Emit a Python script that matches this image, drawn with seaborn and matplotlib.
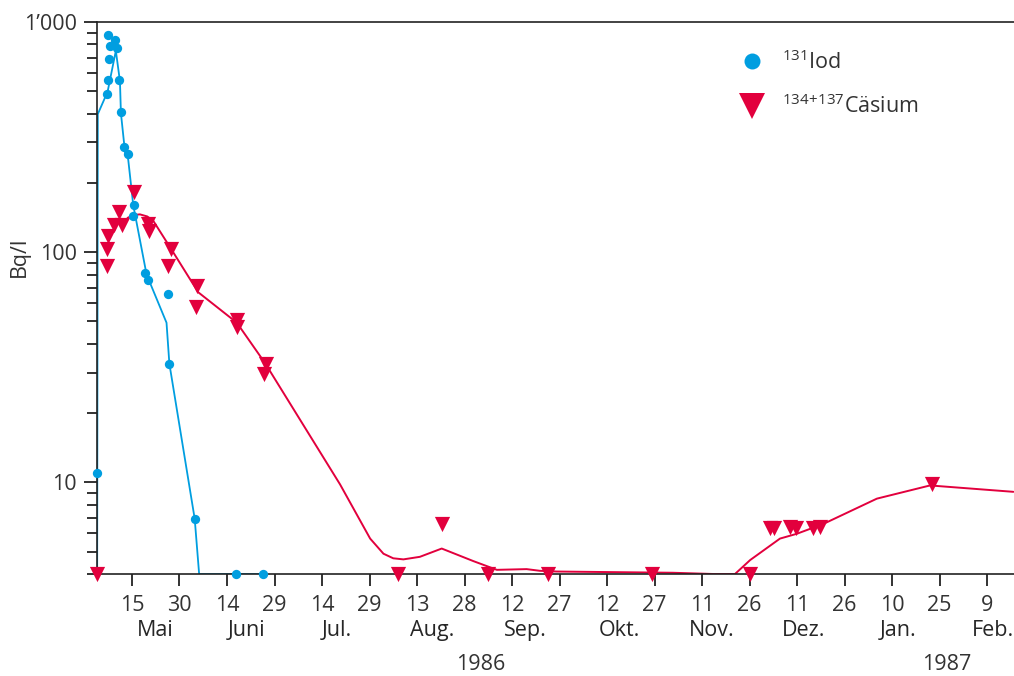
import numpy as np
import pandas as pd
import matplotlib
matplotlib.use('Agg')
import matplotlib.pyplot as plt
import matplotlib.transforms as mtransforms
from matplotlib.lines import Line2D
from matplotlib.ticker import LogLocator, NullFormatter, FixedLocator
import seaborn as sns

sns.set_theme(style='ticks')
plt.rcParams['font.family'] = ['Open Sans', 'DejaVu Sans']
plt.rcParams['mathtext.fontset'] = 'custom'
plt.rcParams['mathtext.rm'] = 'Open Sans'

BLUE = '#009ee0'
RED = '#e2003d'
FS = 15.5

# Tage seit 1. Mai 1986
start = pd.Timestamp('1986-05-01')

# 131-Iod Messwerte
iod_day = [6.3, 8.6, 7.1, 9.3, 6.7, 6.3, 10.0, 6.2, 10.4, 11.5, 12.7,
           14.7, 14.4, 18.1, 19.0, 25.3, 25.8, 33.8, 3.0, 46.8, 55.5]
iod_bq = [878, 838, 789, 769, 690, 558, 558, 486, 406, 287, 266,
          161, 144, 81, 76, 66, 32.8, 6.95, 11.0, 4.0, 4.0]

# Iod Verlauf
iod_line_day = [3.0, 3.2, 6.3, 8.9, 10.2, 10.5, 11.8, 12.8, 14.4, 18.6, 24.9, 25.8, 33.8, 35.2, 55.5]
iod_line_bq = [4.0, 398, 498, 750, 552, 402, 272, 253, 160, 80, 49.4, 32.8, 6.95, 4.0, 4.0]

# 134+137-Caesium Messwerte
cs_day = [3.0, 6.0, 6.2, 6.5, 8.4, 10.0, 10.7, 14.7, 19.0, 19.4, 25.3, 26.3,
          34.2, 34.6, 47.1, 47.1, 55.8, 56.3, 97.9, 111.8, 126.3, 145.5, 178.1,
          209.2, 215.3, 216.7, 221.8, 223.7, 229.0, 231.3, 266.5]
cs_bq = [4.0, 87, 103, 118, 131, 150, 131, 183, 133, 124, 87, 103,
         58, 71, 51, 47.5, 29.5, 32.8, 4.0, 6.6, 4.0, 4.0, 4.0,
         4.0, 6.35, 6.35, 6.4, 6.35, 6.35, 6.4, 9.8]

# Caesium Verlauf
cs_line_day = [12.6, 14.5, 16.5, 18.8, 20.7, 27.0, 34.9, 47.1, 56.0, 79.7, 89.2, 93.4,
               96.5, 99.7, 104.9, 111.8, 121.8, 129.2, 138.6, 142.8, 148.1, 184.8,
               197.5, 204.4, 209.2, 218.6, 223.9, 232.3, 249.2, 266.0, 292.3]
cs_line_bq = [141, 145, 146, 143, 137, 100, 67, 49.4, 33, 9.8, 5.7, 4.9,
              4.68, 4.63, 4.75, 5.16, 4.55, 4.17, 4.2, 4.13, 4.1, 4.05,
              4.0, 4.0, 4.6, 5.7, 5.98, 6.6, 8.5, 9.7, 9.1]

tick_dates = pd.date_range('1986-05-15', periods=19, freq='15D')
tick_labels = ['15', '30', '14', '29', '14', '29', '13', '28', '12', '27',
               '12', '27', '11', '26', '11', '26', '10', '25', '9']
months = ['Mai', 'Juni', 'Jul.', 'Aug.', 'Sep.', 'Okt.', 'Nov.', 'Dez.', 'Jan.', 'Feb.']
month_day = [21.3, 50.3, 78.7, 108.7, 138.2, 167.8, 197.2, 226.2, 255.9, 285.9]
years = ['1986', '1987']
year_day = [124.2, 271.4]

fig = plt.figure(figsize=(10.14, 6.76), dpi=100)
ax = fig.add_axes([97 / 1014, 1 - 574 / 676, 917 / 1014, 552 / 676])

sns.lineplot(x=cs_line_day, y=cs_line_bq, sort=False, estimator=None,
             color=RED, lw=1.4, ax=ax)
sns.lineplot(x=iod_line_day, y=iod_line_bq, sort=False, estimator=None,
             color=BLUE, lw=1.3, ax=ax)
sns.scatterplot(x=cs_day, y=cs_bq, marker='v', s=120, color=RED,
                linewidth=0, ax=ax, clip_on=False, zorder=3)
sns.scatterplot(x=iod_day, y=iod_bq, marker='o', s=45, color=BLUE,
                linewidth=0, ax=ax, clip_on=False, zorder=4)

ax.set_yscale('log')
ax.set_ylim(4, 1000)
ax.set_xlim(2.95, 292.5)

ax.yaxis.set_major_locator(FixedLocator([10, 100, 1000]))
ax.set_yticklabels(['10', '100', '1\u2019000'])
ax.yaxis.set_minor_locator(LogLocator(base=10, subs=np.arange(2, 10)))
ax.yaxis.set_minor_formatter(NullFormatter())

tick_days = [(d - start).days for d in tick_dates]
ax.set_xticks(tick_days, labels=tick_labels)
ax.set_xticks(month_day, labels=months, minor=True)

ax.tick_params(axis='y', which='major', length=9.5, width=1.3, labelsize=FS, pad=5, color='#222222')
ax.tick_params(axis='y', which='minor', length=7, width=1.3, color='#222222')
ax.tick_params(axis='x', which='major', length=8.5, width=1.3, labelsize=FS, pad=6.5, color='#222222')
ax.tick_params(axis='x', which='minor', length=0, labelsize=FS, pad=33)
ax.tick_params(labelcolor='#333333')

for s in ['left', 'top', 'bottom']:
    ax.spines[s].set_linewidth(1.2)
    ax.spines[s].set_color('#222222')
ax.spines['right'].set_visible(False)

ax.set_xlabel('')
ax.set_ylabel('Bq/l', fontsize=FS, color='#333333')
ax.yaxis.label.set_verticalalignment('center')
ax.yaxis.set_label_coords(-0.085, 0.574)

trans = mtransforms.blended_transform_factory(ax.transData, ax.transAxes)
for d, y in zip(year_day, years):
    ax.text(d, -0.164, y, transform=trans, ha='center', va='center',
            fontsize=FS, color='#333333')

handles = [
    Line2D([], [], marker='o', ls='', color=BLUE, markersize=11.5, markeredgewidth=0),
    Line2D([], [], marker='v', ls='', color=RED, markersize=19, markeredgewidth=0),
]
labels = [r'$^{131}$Iod', r'$^{134\!+\!137}$Cäsium']
ax.legend(handles, labels, loc='upper left', bbox_to_anchor=(0.679, 0.968),
          frameon=False, fontsize=FS, handletextpad=0.4, labelspacing=0.95,
          borderpad=0, labelcolor='#333333')

fig.savefig('out.png', dpi=100)
